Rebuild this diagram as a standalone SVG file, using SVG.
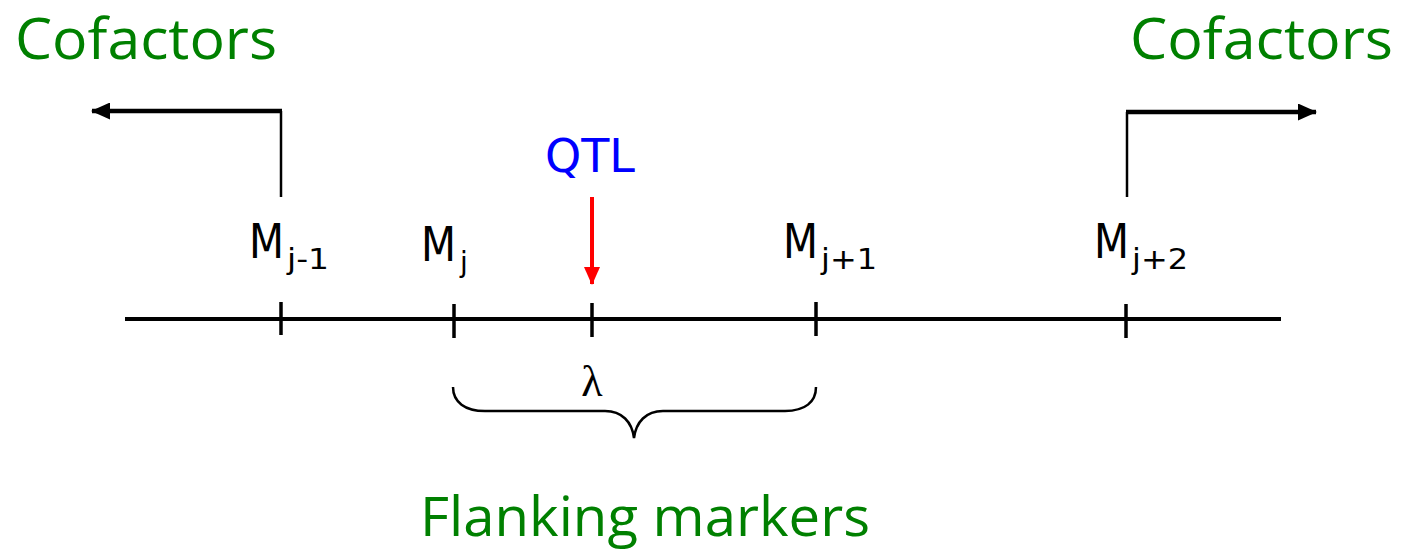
<svg xmlns="http://www.w3.org/2000/svg" width="1401" height="550" viewBox="0 0 1401 550">
<style>
.green{fill:#008000;font-family:"Open Sans","Noto Sans",sans-serif;font-size:56px}
.m{fill:#000;font-family:"DejaVu Sans","Liberation Sans",sans-serif;font-size:48px}
.sub{fill:#000;font-family:"DejaVu Sans","Liberation Sans",sans-serif;font-size:28px}
.ln{stroke:#000;fill:none}
</style>
<defs>
<marker id="ah" markerWidth="19" markerHeight="17" refX="18" refY="8.5" orient="auto" markerUnits="userSpaceOnUse">
<path d="M0,0 L19,8.5 L0,17 Z" fill="#000"/>
</marker>
<marker id="ahr" markerWidth="16" markerHeight="18" refX="8" refY="17" orient="0" markerUnits="userSpaceOnUse">
<path d="M0,0 L16,0 L8,18 Z" fill="#ff0000"/>
</marker>
</defs>
<g id="connectors">
<line class="ln" x1="125" y1="319" x2="1281" y2="319" stroke-width="4"/>
<path class="ln" d="M281,197 V111" stroke-width="2.5"/>
<path class="ln" d="M282,111 H92" stroke-width="4.5" marker-end="url(#ah)"/>
<path class="ln" d="M1127,197 V112" stroke-width="2.5"/>
<path class="ln" d="M1126,112 H1316" stroke-width="4.5" marker-end="url(#ah)"/>
<line x1="592" y1="197" x2="592" y2="284" stroke="#ff0000" stroke-width="4" marker-end="url(#ahr)"/>
<path class="ln" stroke-width="2.5" d="M453,387 C453,402 465,411 485,411 H605 C622,411 632,422 634,438 C636,422 646,411 663,411 H785 C805,411 816,402 816,387"/>
</g>
<g id="ticks">
<line class="ln" x1="281" y1="302" x2="281" y2="335" stroke-width="3.5"/>
<line class="ln" x1="454" y1="304" x2="454" y2="338" stroke-width="3.5"/>
<line class="ln" x1="592" y1="303" x2="592" y2="337" stroke-width="3.5"/>
<line class="ln" x1="816" y1="302" x2="816" y2="336" stroke-width="3.5"/>
<line class="ln" x1="1126" y1="304" x2="1126" y2="338" stroke-width="3.5"/>
</g>
<g id="cofactors-left"><text class="green" x="15" y="59" textLength="262" lengthAdjust="spacingAndGlyphs">Cofactors</text></g>
<g id="cofactors-right"><text class="green" x="1130" y="59" textLength="263" lengthAdjust="spacingAndGlyphs">Cofactors</text></g>
<g id="qtl"><text x="590" y="172" text-anchor="middle" fill="#0000ff" font-family="DejaVu Sans,Liberation Sans,sans-serif" font-size="47" textLength="90" lengthAdjust="spacingAndGlyphs">QTL</text></g>
<g id="m-j-1"><text class="m" x="249" y="258" textLength="35" lengthAdjust="spacingAndGlyphs">M</text><text class="sub" x="287" y="269" textLength="42" lengthAdjust="spacingAndGlyphs">j-1</text></g>
<g id="m-j"><text class="m" x="421" y="261" textLength="35" lengthAdjust="spacingAndGlyphs">M</text><text class="sub" x="460" y="272">j</text></g>
<g id="m-j+1"><text class="m" x="783" y="258" textLength="35" lengthAdjust="spacingAndGlyphs">M</text><text class="sub" x="821" y="269" textLength="56" lengthAdjust="spacingAndGlyphs">j+1</text></g>
<g id="m-j+2"><text class="m" x="1094" y="258" textLength="35" lengthAdjust="spacingAndGlyphs">M</text><text class="sub" x="1132" y="269" textLength="56" lengthAdjust="spacingAndGlyphs">j+2</text></g>
<g id="lambda"><text x="592" y="396" text-anchor="middle" font-family="Liberation Serif,serif" font-size="44" fill="#000">λ</text></g>
<g id="flanking"><text class="green" x="420" y="536" textLength="450" lengthAdjust="spacingAndGlyphs" style="font-size:54px">Flanking markers</text></g>
</svg>
